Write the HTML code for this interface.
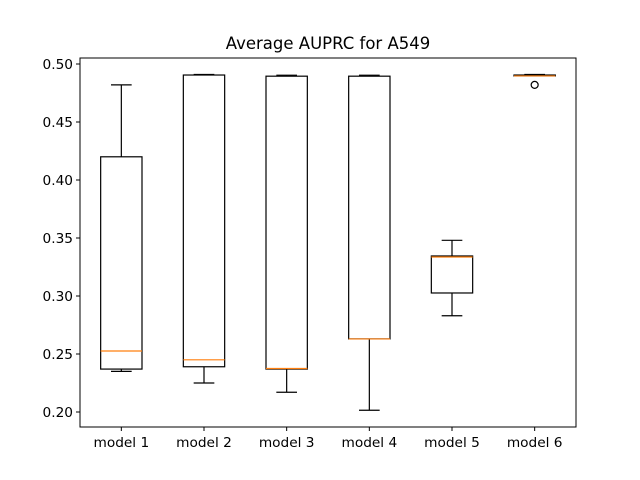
<!DOCTYPE html>
<html><head><meta charset="utf-8"><style>body{margin:0;background:#fff}svg{display:block;font-family:"DejaVu Sans","Liberation Sans",sans-serif}</style></head>
<body>
<svg id="c" width="640" height="480"></svg>
<script>
const categories=["model 1","model 2","model 3","model 4","model 5","model 6"];
const whiskerLow=[0.235,0.225,0.217,0.2015,0.283,0.4903];
const q1=[0.237,0.239,0.237,0.263,0.3026,0.4897];
const medians=[0.2526,0.245,0.2375,0.263,0.3336,0.4897];
const q3=[0.420,0.4905,0.4895,0.4895,0.3345,0.4905];
const whiskerHigh=[0.482,0.491,0.4903,0.4903,0.348,0.491];
const fliers=[[],[],[],[],[],[0.482]];
const yTicks=[0.20,0.25,0.30,0.35,0.40,0.45,0.50];
const L=80,R=576,T=58,B=427;
const y=v=>412-(v-0.2)*1160;
const step=(R-L)/categories.length;
const x=i=>L+(i+0.5)*step;
const svg=document.getElementById('c');
const NS='http://www.w3.org/2000/svg';
function mk(t,a,p){const e=document.createElementNS(NS,t);for(const k in a)e.setAttribute(k,a[k]);(p||svg).appendChild(e);return e;}
const title=mk('text',{x:328,y:49,'text-anchor':'middle','font-size':16.5});
title.textContent='Average AUPRC for A549';


yTicks.forEach(v=>{
  const ty=y(v);
  mk('line',{x1:L-4,x2:L,y1:ty,y2:ty,stroke:'#000'});
  const t=mk('text',{x:L-7,y:ty+5,'text-anchor':'end','font-size':13.7});
  t.textContent=v.toFixed(2);
  
  
});
const hw=step*0.25,cw=step*0.125;
categories.forEach((c,i)=>{
  const cx=x(i);
  const g=mk('g',{});
  
  
  mk('line',{x1:cx,x2:cx,y1:y(q1[i]),y2:y(whiskerLow[i]),stroke:'#000','stroke-width':1.2},g);
  mk('line',{x1:cx,x2:cx,y1:y(q3[i]),y2:y(whiskerHigh[i]),stroke:'#000','stroke-width':1.2},g);
  mk('line',{x1:cx-cw,x2:cx+cw,y1:y(whiskerLow[i]),y2:y(whiskerLow[i]),stroke:'#000','stroke-width':1.2},g);
  mk('line',{x1:cx-cw,x2:cx+cw,y1:y(whiskerHigh[i]),y2:y(whiskerHigh[i]),stroke:'#000','stroke-width':1.2},g);
  mk('rect',{x:cx-hw,y:y(q3[i]),width:2*hw,height:Math.max(0.5,y(q1[i])-y(q3[i])),fill:'none',stroke:'#000','stroke-width':1.2},g);
  mk('line',{x1:cx-hw,x2:cx+hw,y1:y(medians[i]),y2:y(medians[i]),stroke:'#ff7f0e','stroke-width':1.2},g);
  fliers[i].forEach(f=>mk('circle',{cx:cx,cy:y(f),r:3.5,fill:'none',stroke:'#000','stroke-width':1.2},g));
  mk('line',{x1:cx,x2:cx,y1:B,y2:B+4,stroke:'#000'});
  const t=mk('text',{x:cx,y:B+20,'text-anchor':'middle','font-size':13.7});
  t.textContent=c;
  
  
});
const fr=mk('rect',{x:L,y:T,width:R-L,height:B-T,fill:'none',stroke:'#000','stroke-width':1});


</script>
</body></html>
